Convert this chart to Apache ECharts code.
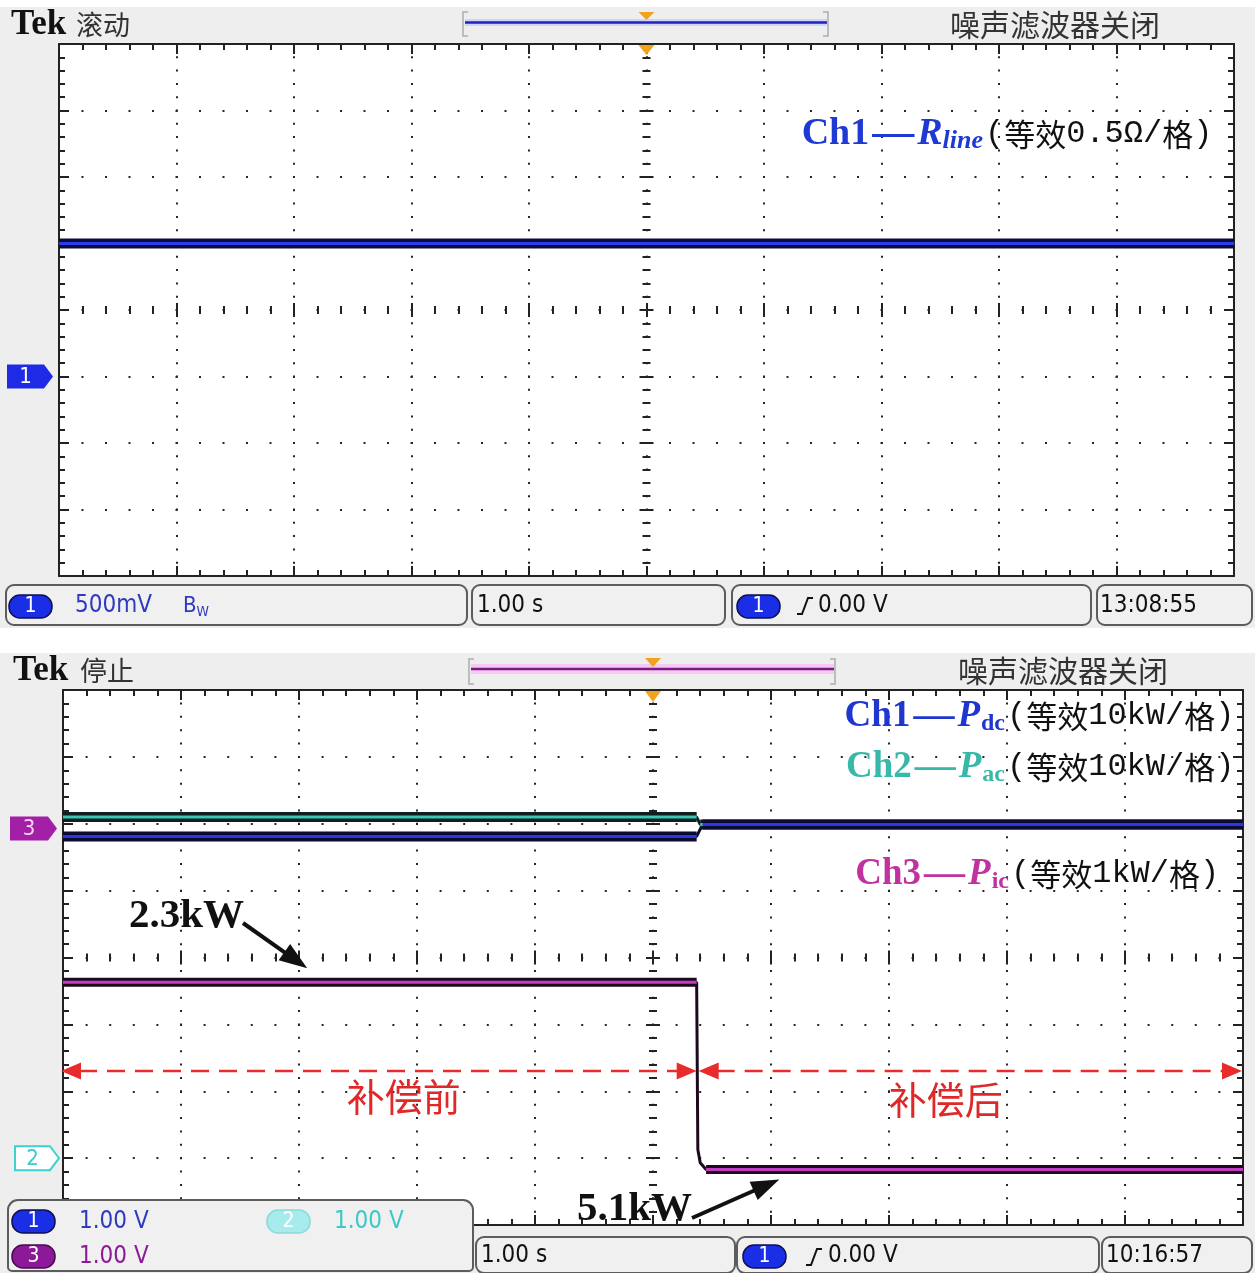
<!DOCTYPE html>
<html>
<head>
<meta charset="utf-8">
<script src="https://cdn.jsdelivr.net/npm/echarts@6/dist/echarts.min.js"></script>
<style>
  html, body { margin: 0; padding: 0; background: #fff; }
  #scope {
    width: 1255px; height: 1273px;
    background: linear-gradient(to bottom,
      #fff 0, #fff 7px, #eeeeee 7px, #eeeeee 628px,
      #fff 628px, #fff 653px, #eeeeee 653px, #eeeeee 1273px);
  }
</style>
</head>
<body>
<div id="scope"></div>
<script>
// ---------------- data ----------------
// horizontal: 1.00 s/div, 10 divisions per screen
const TIME_DIVS = 10;

// upper capture (rolling): Ch1 = equivalent line resistance, ohm
const RLINE_TIME = [0, 10];
const RLINE_OHM  = [1.0, 1.0];

// lower capture (stopped): compensation switched in at 5.37 s
const SWITCH_TIME = 5.37;
const PDC_TIME = [0, 5.37, 5.42, 10];
const PDC_KW   = [48.1, 48.1, 49.9, 49.9];
const PAC_TIME = [0, 5.37, 5.40, 10];
const PAC_KW   = [51.0, 51.0, 49.9, 49.9];
const PIC_TIME = [0, 5.37, 5.38, 5.40, 5.45, 10];
const PIC_KW   = [2.3, 2.3, 4.8, 5.0, 5.1, 5.1];

// readouts shown in the status bars
const READOUT_A = { ch1: '500mV', time: '1.00 s', trig: '0.00 V', clock: '13:08:55' };
const READOUT_B = { ch1: '1.00 V', ch2: '1.00 V', ch3: '1.00 V', time: '1.00 s', trig: '0.00 V', clock: '10:16:57' };

// channel scales: units per division and ground-marker position (div from centre)
const RLINE_PER_DIV = 0.5, RLINE_ZERO_DIV = -1;
const PWR_PER_DIV = 10,    PWR_ZERO_DIV = -3;
const PIC_PER_DIV = 1,     PIC_ZERO_DIV = 1.93;   // Pic is drawn with inverted polarity

// ---------------- layout / style ----------------
const PLOT_A = { x: 59, y: 44, w: 1175, h: 532 };
const PLOT_B = { x: 63, y: 690, w: 1180, h: 535 };
const INK = '#222';
const DOT = '#262626';
const SERIF = '"Liberation Serif", "Times New Roman", serif';
const CJK = '"Noto Sans CJK SC", sans-serif';
const MONO = '"Liberation Mono", "DejaVu Sans Mono", monospace';
const NARROW = '"DejaVu Sans Condensed", "Liberation Sans Narrow", sans-serif';

const grids = [], xAxes = [], yAxes = [];

function addGrid(r, bg) {
  grids.push({ left: r.x, top: r.y, width: r.w, height: r.h, containLabel: false,
    show: !!bg, backgroundColor: bg ? '#fff' : 'transparent', borderWidth: 0 });
  return grids.length - 1;
}
function hAxis(grid, position, o) {
  xAxes.push(Object.assign({ type: 'value', gridIndex: grid, position, min: 0, max: TIME_DIVS, interval: 1,
    axisLabel: { show: false }, axisLine: { show: false, onZero: false }, axisTick: { show: false },
    splitLine: { show: false } }, o));
  return xAxes.length - 1;
}
function vAxis(grid, position, o) {
  yAxes.push(Object.assign({ type: 'value', gridIndex: grid, position, min: -4, max: 4, interval: 1,
    axisLabel: { show: false }, axisLine: { show: false, onZero: false }, axisTick: { show: false },
    splitLine: { show: false } }, o));
  return yAxes.length - 1;
}
function ticks(major, minor) {
  return {
    axisTick: { show: true, inside: true, length: major, lineStyle: { color: INK, width: 2 } },
    minorTick: { show: true, splitNumber: 5, length: minor, lineStyle: { color: INK, width: 2 } }
  };
}
const border = () => ({ axisLine: { show: true, onZero: false, lineStyle: { color: INK, width: 2 } } });

// graticule: 10 x 8 divisions, dotted lines, ticked border and ticked centre cross
function buildFrame(r) {
  const gMain = addGrid(r, true);
  const gUp = addGrid({ x: r.x, y: r.y, w: r.w, h: r.h / 2 });
  const gDn = addGrid({ x: r.x, y: r.y + r.h / 2, w: r.w, h: r.h / 2 });
  const gL = addGrid({ x: r.x, y: r.y, w: r.w / 2, h: r.h });
  const gR = addGrid({ x: r.x + r.w / 2, y: r.y, w: r.w / 2, h: r.h });
  const dx = r.w / 50, dy = r.h / 40;
  const xMain = hAxis(gMain, 'bottom', Object.assign(border(), ticks(10, 6),
    { splitLine: { show: true, lineStyle: { color: DOT, width: 2, type: [2, dy - 2], dashOffset: 1 } } }));
  hAxis(gMain, 'top', Object.assign(border(), ticks(10, 6)));
  vAxis(gMain, 'left', Object.assign(border(), ticks(10, 6),
    { splitLine: { show: true, lineStyle: { color: DOT, width: 2, type: [2, dx - 2], dashOffset: 1 } } }));
  vAxis(gMain, 'right', Object.assign(border(), ticks(10, 6)));
  hAxis(gUp, 'bottom', ticks(7, 4)); vAxis(gUp, 'left', { show: false });
  hAxis(gDn, 'top', ticks(7, 4));    vAxis(gDn, 'left', { show: false });
  hAxis(gL, 'bottom', { show: false }); vAxis(gL, 'right', ticks(7, 4));
  hAxis(gR, 'bottom', { show: false }); vAxis(gR, 'left', ticks(7, 4));
  return { gMain, xMain };
}
function dataAxis(grid, perDiv, zeroDiv, inverse) {
  const min = inverse ? (zeroDiv - 4) * perDiv : (-4 - zeroDiv) * perDiv;
  const max = inverse ? (zeroDiv + 4) * perDiv : (4 - zeroDiv) * perDiv;
  return vAxis(grid, 'left', { show: false, min, max, interval: undefined, inverse: !!inverse });
}

const frameA = buildFrame(PLOT_A);
const frameB = buildFrame(PLOT_B);
const yRline = dataAxis(frameA.gMain, RLINE_PER_DIV, RLINE_ZERO_DIV, false);
const yPwr = dataAxis(frameB.gMain, PWR_PER_DIV, PWR_ZERO_DIV, false);
const yPic = dataAxis(frameB.gMain, PIC_PER_DIV, PIC_ZERO_DIV, true);

// each trace: thin dark path, a wide dark persistence band on the settled stretches,
// and the channel colour running through the band
function trace(name, xIdx, yIdx, ts, vs, color, dark, bandW) {
  const path = ts.map((t, i) => [t, vs[i]]);
  const flat = [];
  for (let i = 0; i < ts.length - 1; i++) {
    if (vs[i] === vs[i + 1]) {
      flat.push([ts[i], vs[i]], [ts[i + 1], vs[i + 1]]);
    } else {
      flat.push([ts[i], '-']);
    }
  }
  const common = { type: 'line', xAxisIndex: xIdx, yAxisIndex: yIdx, symbol: 'none',
    silent: true, animation: false, connectNulls: false };
  return [
    Object.assign({ name: name + ' edge' }, common, { data: path, z: 4, lineStyle: { color: dark, width: 3 } }),
    Object.assign({ name: name + ' band' }, common, { data: flat, z: 5, lineStyle: { color: dark, width: bandW || 9 } }),
    Object.assign({ name }, common, { data: flat, z: 6, lineStyle: { color, width: 3 } })
  ];
}

const series = [].concat(
  trace('Rline', frameA.xMain, yRline, RLINE_TIME, RLINE_OHM, '#2a3cec', '#0c0c3c', 10),
  trace('Pac', frameB.xMain, yPwr, PAC_TIME, PAC_KW, '#3cc6b6', '#0f1f1f', 10),
  trace('Pdc', frameB.xMain, yPwr, PDC_TIME, PDC_KW, '#2b38dc', '#0b0b32', 10),
  trace('Pic', frameB.xMain, yPic, PIC_TIME, PIC_KW, '#c43cc4', '#1c0a1c', 9)
);

const chart = echarts.init(document.getElementById('scope'), null, { renderer: 'canvas', width: 1255, height: 1273 });
chart.setOption({
  animation: false,
  backgroundColor: 'transparent',
  grid: grids, xAxis: xAxes, yAxis: yAxes, series
});

// ---------------- screen furniture ----------------
const G = [];
const rect = (x, y, w, h, style, r, z) => G.push({ type: 'rect', shape: { x, y, width: w, height: h, r: r || 0 }, style, z: z || 40, silent: true });
const poly = (pts, style, z) => G.push({ type: 'polygon', shape: { points: pts }, style, z: z || 45, silent: true });
const pline = (pts, style, z) => G.push({ type: 'polyline', shape: { points: pts }, style: Object.assign({ fill: null }, style), z: z || 45, silent: true });
const text = (x, y, str, font, fill, align, z) => G.push({ type: 'text', x, y, z: z || 50, silent: true,
  style: { text: str, font, fill, align: align || 'left', verticalAlign: 'middle' } });
const rich = (x, y, str, richStyles, align) => G.push({ type: 'text', x, y, z: 50, silent: true,
  style: { text: str, rich: richStyles, align: align || 'left', verticalAlign: 'middle' } });

function arrowHead(x1, y1, x2, y2, len, wid, color) {
  const a = Math.atan2(y2 - y1, x2 - x1), c = Math.cos(a), s = Math.sin(a);
  const bx = x2 - c * len, by = y2 - s * len;
  poly([[x2, y2], [bx - s * wid / 2, by + c * wid / 2], [bx + s * wid / 2, by - c * wid / 2]], { fill: color }, 48);
  return [bx + c * 2, by + s * 2];
}
function arrow(x1, y1, x2, y2, color, width, len, wid) {
  const b = arrowHead(x1, y1, x2, y2, len, wid, color);
  pline([[x1, y1], b], { stroke: color, lineWidth: width }, 47);
}
function doubleArrow(x1, x2, y, color) {
  const a = arrowHead(x2, y, x1, y, 20, 17, color);
  const b = arrowHead(x1, y, x2, y, 20, 17, color);
  pline([a, b], { stroke: color, lineWidth: 2.5, lineDash: [18, 10] }, 47);
}
function pill(x, y, label, fill, stroke, color) {
  rect(x, y, 43, 23, { fill, stroke: stroke || '#101050', lineWidth: 1.5 }, 11, 55);
  text(x + 21.5, y + 12, label, '21px ' + NARROW, color || '#fff', 'center', 56);
}
function marker(yMid, label, fill, stroke, color, x0, tip) {
  poly([[x0, yMid - 12], [tip - 9, yMid - 12], [tip, yMid], [tip - 9, yMid + 12], [x0, yMid + 12]],
    { fill, stroke: stroke || fill, lineWidth: stroke ? 2 : 0 }, 55);
  text((x0 + tip - 9) / 2, yMid + 1, label, '22px ' + NARROW, color, 'center', 56);
}
const box = (x, y, w, h) => rect(x, y, w, h, { fill: '#f0f0f0', stroke: '#5c5c5c', lineWidth: 2 }, 8, 40);
const trigTri = (cx, top, h) => poly([[cx - 8, top], [cx + 8, top], [cx, top + h]], { fill: '#f0a31c' }, 60);
function slope(x, yb) {
  pline([[x, yb], [x + 5, yb], [x + 11, yb - 16], [x + 16, yb - 16]], { stroke: '#111', lineWidth: 2 }, 56);
}

// channel caption: coloured name + symbol, then the scale note in black
function caption(xSplit, y, ch, sym, sub, note, col, size) {
  const italicSub = sub === 'line';
  rich(xSplit - 2, y, `{c|${ch}}{d|—}{s|${sym}}{b|${sub}}`, {
    c: { fontFamily: SERIF, fontWeight: 'bold', fontSize: size, fill: col, lineHeight: 40 },
    d: { fontFamily: SERIF, fontWeight: 'bold', fontSize: size + 4, fill: col, lineHeight: 40, padding: [0, 3, 0, 3] },
    s: { fontFamily: SERIF, fontWeight: 'bold', fontStyle: 'italic', fontSize: size, fill: col, lineHeight: 40 },
    b: Object.assign({ fontFamily: SERIF, fontWeight: 'bold', fontSize: italicSub ? 26 : 24, fill: col,
      lineHeight: 24, verticalAlign: 'bottom', padding: italicSub ? 0 : [0, 0, 0, 1] },
      italicSub ? { fontStyle: 'italic' } : {})
  }, 'right');
  const parts = note.match(/[\u4e00-\u9fff]+|[^\u4e00-\u9fff]+/g);
  const str = parts.map(p => /[\u4e00-\u9fff]/.test(p) ? `{h|${p}}` : `{a|${p}}`).join('');
  rich(xSplit, y, str, {
    a: { fontFamily: MONO, fontSize: 32, fill: '#111', lineHeight: 40 },
    h: { fontFamily: CJK, fontSize: 31, fill: '#111', lineHeight: 40 }
  }, 'left');
}

const px = (xi, t) => chart.convertToPixel({ xAxisIndex: xi }, t);
const py = (yi, v) => chart.convertToPixel({ yAxisIndex: yi }, v);

// ----- upper screen -----
text(11, 25, 'Tek', 'bold 35px ' + SERIF, '#111');
text(76, 25, '滚动', '27px ' + CJK, '#333');
text(950, 25, '噪声滤波器关闭', '30px ' + CJK, '#333');
pline([[468, 12], [463, 12], [463, 36], [468, 36]], { stroke: '#bdbdbd', lineWidth: 2 });
pline([[823, 12], [828, 12], [828, 36], [823, 36]], { stroke: '#bdbdbd', lineWidth: 2 });
rect(465, 19, 362, 7, { fill: '#d2d4f2' }, 0, 42);
pline([[465, 22.5], [827, 22.5]], { stroke: '#1c22c8', lineWidth: 2.5 });
const midA = px(frameA.xMain, TIME_DIVS / 2);
trigTri(midA, 12, 8);
trigTri(midA, PLOT_A.y + 1, 10);
marker(py(yRline, 0), '1', '#1e2ae6', null, '#fff', 7, 53);

caption(985, 134, 'Ch1', 'R', 'line', '(等效0.5Ω/格)', '#1f3ad4', 38);

box(6, 585, 461, 40); box(472, 585, 253, 40); box(732, 585, 359, 40); box(1097, 585, 155, 40);
pill(9, 595, '1', '#1a2ee6');
text(75, 606, READOUT_A.ch1, '24px ' + NARROW, '#2f3abf');
rich(183, 606, '{b|B}{w|W}', {
  b: { fontFamily: NARROW, fontSize: 22, fill: '#2f3abf', lineHeight: 26 },
  w: { fontFamily: NARROW, fontSize: 14, fill: '#2f3abf', lineHeight: 14, verticalAlign: 'bottom' }
});
text(477, 606, READOUT_A.time, '24px ' + NARROW, '#111');
pill(737, 595, '1', '#1a2ee6');
slope(797, 614);
text(818, 606, READOUT_A.trig, '24px ' + NARROW, '#111');
text(1100, 606, READOUT_A.clock, '24px ' + NARROW, '#111');

// ----- lower screen -----
text(13, 671, 'Tek', 'bold 35px ' + SERIF, '#111');
text(80, 671, '停止', '27px ' + CJK, '#333');
text(958, 671, '噪声滤波器关闭', '30px ' + CJK, '#333');
pline([[474, 659], [469, 659], [469, 684], [474, 684]], { stroke: '#bdbdbd', lineWidth: 2 });
pline([[830, 659], [835, 659], [835, 684], [830, 684]], { stroke: '#bdbdbd', lineWidth: 2 });
rect(471, 664, 363, 10, { fill: '#f5c9f1' }, 0, 42);
pline([[471, 669], [834, 669]], { stroke: '#7d1c80', lineWidth: 2.5 });
const midB = px(frameB.xMain, TIME_DIVS / 2);
trigTri(midB, 658, 9);
trigTri(midB, PLOT_B.y + 1, 11);
marker(py(yPic, 0), '3', '#a21fa6', null, '#f6d8f6', 10, 57);
marker(py(yPwr, 0), '2', '#ffffff', '#3fd0d0', '#3cc8c8', 15, 59);

caption(1007, 716, 'Ch1', 'P', 'dc', '(等效10kW/格)', '#1f36cf', 37);
caption(1007, 767, 'Ch2', 'P', 'ac', '(等效10kW/格)', '#37b8a8', 37);
caption(1011, 874, 'Ch3', 'P', 'ic', '(等效1kW/格)', '#c0329f', 37);

// power annotations for Ch3 before / after the switch
const picFirst = PIC_KW[0], picLast = PIC_KW[PIC_KW.length - 1];
text(129, 916, picFirst.toFixed(1) + 'kW', 'bold 41px ' + SERIF, '#111');
arrow(243, 923, px(frameB.xMain, 2.07), py(yPic, picFirst) - 14, '#111', 4, 28, 20);
text(577, 1209, picLast.toFixed(1) + 'kW', 'bold 41px ' + SERIF, '#111');
arrow(692, 1218, px(frameB.xMain, 6.07), py(yPic, picLast) + 10, '#111', 4, 28, 20);

// spans before / after compensation
const xs = px(frameB.xMain, SWITCH_TIME), x0 = px(frameB.xMain, 0), x1 = px(frameB.xMain, TIME_DIVS);
doubleArrow(x0 - 2, xs, 1071, '#e82c2c');
doubleArrow(xs + 2, x1 - 1, 1071, '#e82c2c');
text((x0 + xs) / 2 + 24, 1097, '补偿前', '38px ' + CJK, '#e02828', 'center');
text((xs + x1) / 2 - 24, 1100, '补偿后', '38px ' + CJK, '#e02828', 'center');

// status bar
G.push({ type: 'rect', shape: { x: 8, y: 1200, width: 465, height: 71, r: [10, 10, 4, 4] },
  style: { fill: '#f0f0f0', stroke: '#5c5c5c', lineWidth: 2 }, z: 40, silent: true });
pill(12, 1210, '1', '#1a2ee6');
text(79, 1222, READOUT_B.ch1, '24px ' + NARROW, '#2f3abf');
pill(267, 1210, '2', '#a6ecec', '#8fd8d8');
text(334, 1222, READOUT_B.ch2, '24px ' + NARROW, '#3cc8c8');
pill(12, 1245, '3', '#8c1a98', '#4a0a50');
text(79, 1257, READOUT_B.ch3, '24px ' + NARROW, '#8c1a98');
box(476, 1237, 259, 36); box(737, 1237, 362, 36); box(1102, 1237, 150, 36);
text(481, 1256, READOUT_B.time, '24px ' + NARROW, '#111');
pill(743, 1245, '1', '#1a2ee6');
slope(806, 1265);
text(828, 1256, READOUT_B.trig, '24px ' + NARROW, '#111');
text(1106, 1256, READOUT_B.clock, '24px ' + NARROW, '#111');

chart.setOption({ graphic: { elements: G } });
</script>
</body>
</html>
